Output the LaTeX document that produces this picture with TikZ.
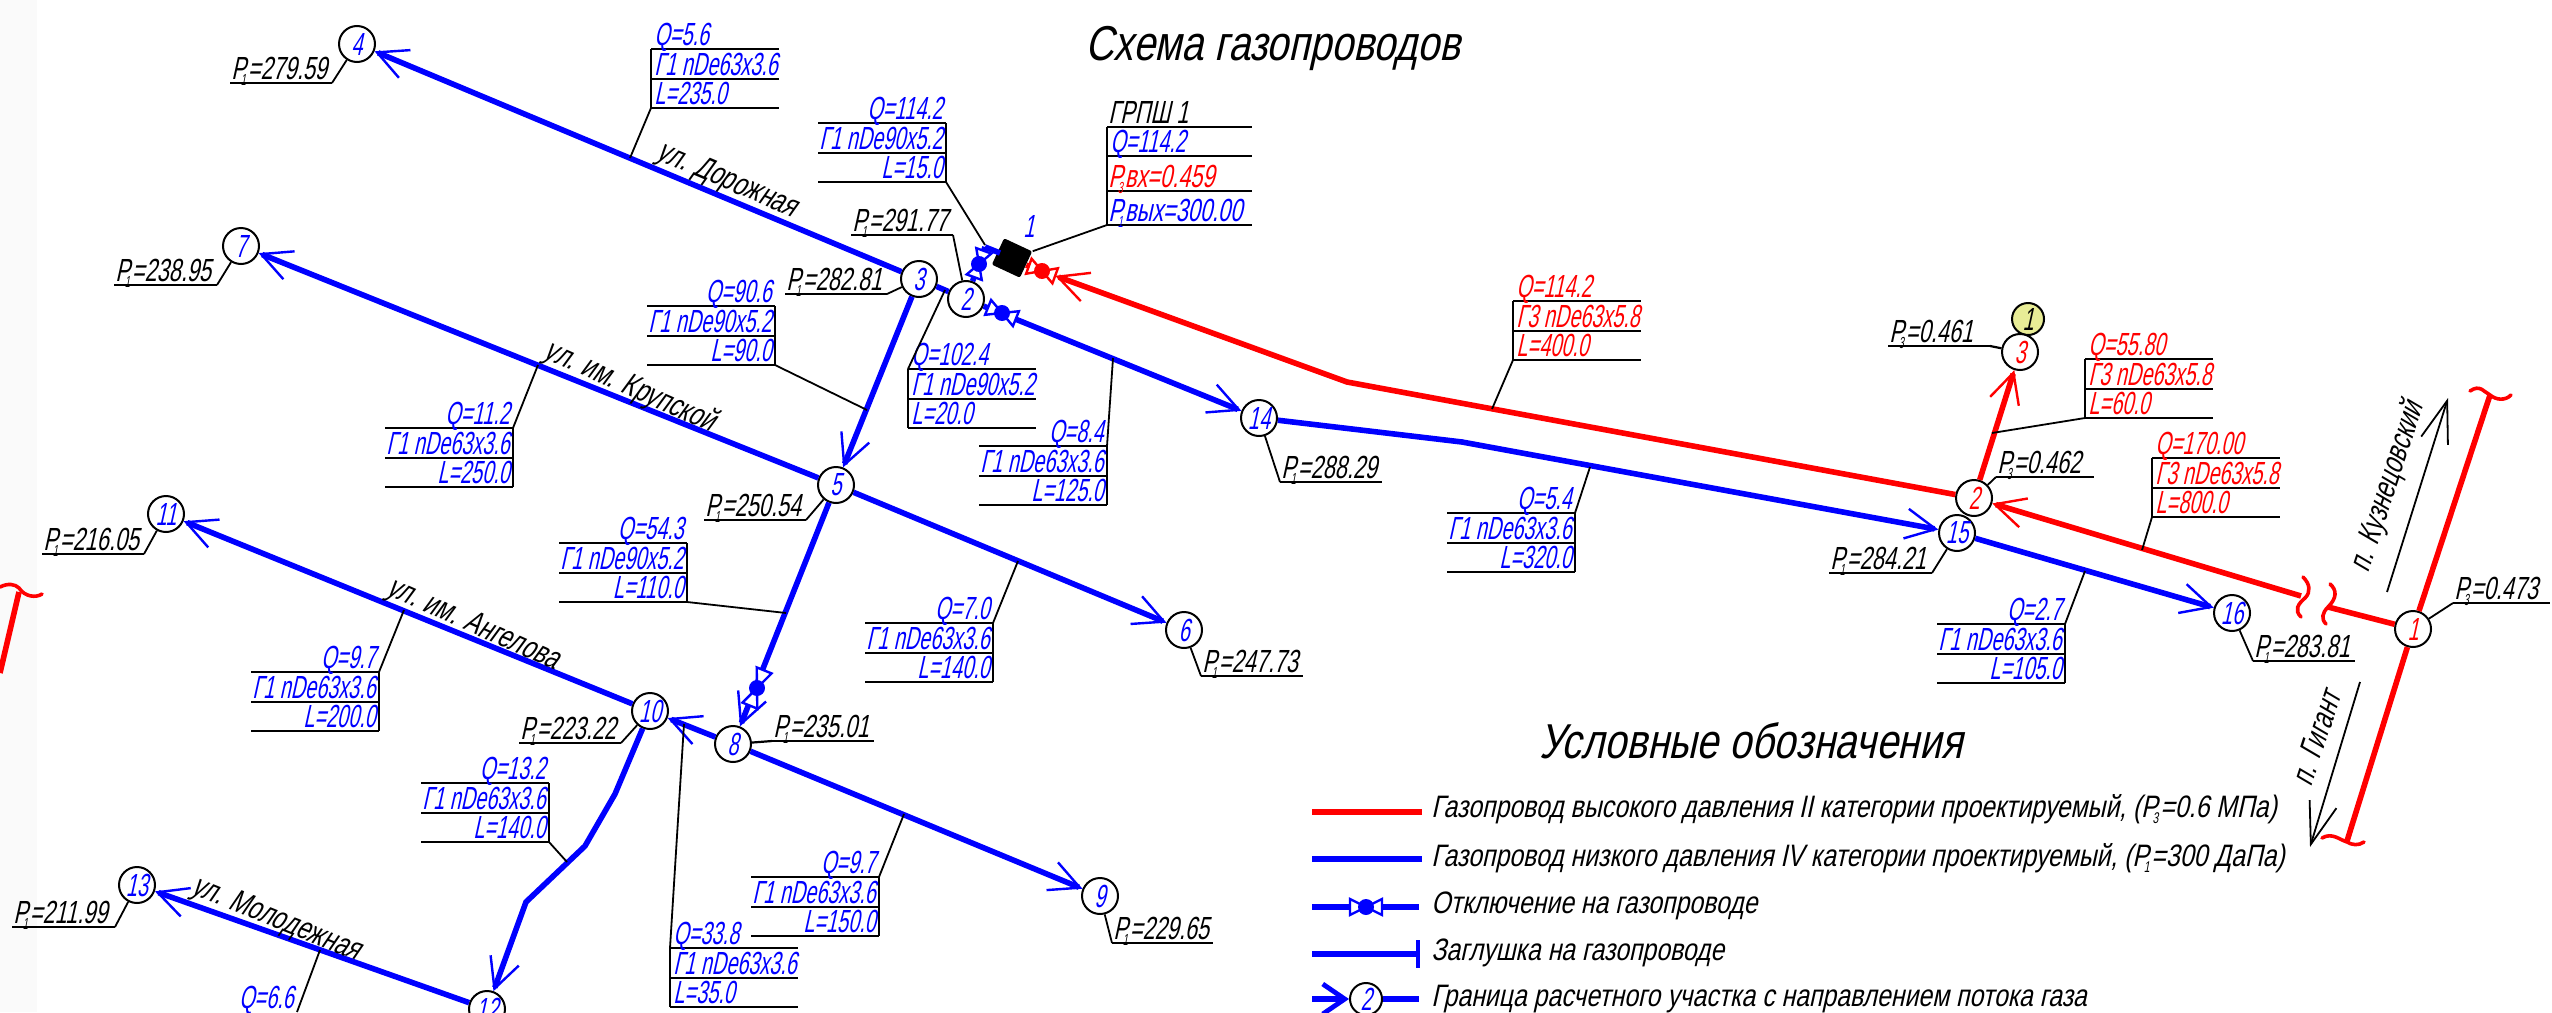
\documentclass[tikz,border=0pt]{standalone}
\usepackage{fontspec}
\setmainfont{Liberation Sans}[FakeSlant=0.22,FakeStretch=0.62]
\newfontfamily\tagface{Liberation Sans}[FakeSlant=0.22,FakeStretch=0.68]
\newfontfamily\streetface{Liberation Sans}[FakeSlant=0.22,FakeStretch=0.73]
\newfontfamily\wideface{Liberation Sans}[FakeSlant=0.22,FakeStretch=0.80]
\usetikzlibrary{arrows.meta}

\definecolor{pipeblue}{RGB}{0,0,255}
\definecolor{pipered}{RGB}{255,0,0}
\definecolor{markyellow}{RGB}{232,236,150}

\newcommand{\rowfont}{\fontsize{16pt}{16pt}\selectfont}
\newcommand{\tagfont}{\tagface\fontsize{16pt}{16pt}\selectfont}
\newcommand{\streetfont}{\streetface\fontsize{16pt}{16pt}\selectfont}
\newcommand{\legendfont}{\wideface\fontsize{15.5pt}{16pt}\selectfont}
\newcommand{\headfont}{\wideface\fontsize{24.5pt}{26pt}\selectfont}
\newcommand{\Psub}[1]{P\kern-.16em\raisebox{-.4ex}{\scalebox{.42}[.5]{#1}}\kern.06em}

\tikzset{
  rule/.style={draw=black,line width=1.1pt},
  leader/.style={draw=black,line width=.9pt},
  flowtip/.style={-{Straight Barb[length=15pt,width=15pt,line width=1.2pt]}},
  bluepipe/.style={draw=pipeblue,line width=2.8pt},
  redpipe/.style={draw=pipered,line width=2.8pt},
  breakmark/.style={draw=pipered,line width=1.8pt,line cap=round},
  roadarrow/.style={draw=black,line width=.9pt,-{Straight Barb[length=21pt,width=14pt,line width=.9pt]}},
  rowtext/.style={text=#1,inner sep=1.5pt,font=\rowfont},
  tagtext/.style={text=#1,inner xsep=.5pt,inner ysep=1.5pt,font=\tagfont},
  streettext/.style={text=black,inner sep=0pt,font=\streetfont},
  legendtext/.style={text=black,inner sep=0pt,font=\legendfont,anchor=base west},
  junction/.style={circle,draw=black,fill=white,line width=1pt,minimum size=18pt,inner sep=0pt,text=#1,font=\rowfont}
}

\newcommand{\callout}[8]{
  \coordinate (#1-west1) at (#2,#3);
  \coordinate (#1-east1) at (#2+128,#3);
  \coordinate (#1-west2) at (#2,#3+30);
  \coordinate (#1-east2) at (#2+128,#3+30);
  \coordinate (#1-west3) at (#2,#3+59);
  \coordinate (#1-east3) at (#2+128,#3+59);
  \draw[rule] (#1-west1) -- (#1-east1);
  \draw[rule] (#1-west2) -- (#1-east2);
  \draw[rule] (#1-west3) -- (#1-east3);
  \draw[rule] (#1-#41) -- (#1-#43);
  \node[rowtext=#5,anchor=base #4,yshift=2pt] (#1-q) at (#1-#41) {#6};
  \node[rowtext=#5,anchor=base #4,yshift=2pt] (#1-g) at (#1-#42) {#7};
  \node[rowtext=#5,anchor=base #4,yshift=2pt] (#1-l) at (#1-#43) {#8};
}
\newcommand{\leaderto}[2]{
  \coordinate (#1-foot) at (#2);
  \draw[leader] (#1) -- (#1-foot);
}
\newcommand{\ptag}[6]{
  \coordinate (#1-west) at (#2,#4);
  \coordinate (#1-east) at (#3,#4);
  \draw[rule] (#1-west) -- (#1-east);
  \node[tagtext=black,anchor=base west,yshift=2pt] (#1-text) at (#1-west) {\Psub{#5}=#6};
}
\newcommand{\gasvalve}[5]{
  \begin{scope}[shift={(#2)},rotate=#3]
    \coordinate (#1-a) at (#4,0);
    \coordinate (#1-b) at (-#4,0);
    \draw[draw=#5,fill=white,line width=1.2pt] (0,0) -- (#4,-8) -- (#4,8) -- cycle;
    \draw[draw=#5,fill=white,line width=1.2pt] (0,0) -- (-#4,-8) -- (-#4,8) -- cycle;
    \fill[#5] (0,0) circle (4pt);
  \end{scope}
}

\begin{document}
\begin{tikzpicture}[x=.5pt,y=-.5pt]
  \clip (0,0) rectangle (2552,1012);
  \fill[white] (0,0) rectangle (2552,1012);
  \fill[black!2] (0,0) rectangle (37,1012);

  \node[junction=pipeblue] (n2) at (966,299) {2};
  \node[junction=pipeblue] (n3) at (919,279) {3};
  \node[junction=pipeblue] (n4) at (357,44) {4};
  \node[junction=pipeblue] (n5) at (836,485) {5};
  \node[junction=pipeblue] (n6) at (1184,630) {6};
  \node[junction=pipeblue] (n7) at (241,246) {7};
  \node[junction=pipeblue] (n8) at (733,744) {8};
  \node[junction=pipeblue] (n9) at (1100,896) {9};
  \node[junction=pipeblue] (n10) at (650,711) {10};
  \node[junction=pipeblue] (n11) at (166,514) {11};
  \node[junction=pipeblue] (n12) at (487,1009) {12};
  \node[junction=pipeblue] (n13) at (137,885) {13};
  \node[junction=pipeblue] (n14) at (1259,418) {14};
  \node[junction=pipeblue] (n15) at (1957,533) {15};
  \node[junction=pipeblue] (n16) at (2232,613) {16};
  \node[circle,draw=black,fill=markyellow,line width=1pt,minimum size=16pt,inner sep=0pt,font=\rowfont] (ymark) at (2028,319) {1};
  \node[junction=pipered] (r1) at (2413,629) {1};
  \node[junction=pipered] (r2) at (1974,498) {2};
  \node[junction=pipered] (r3) at (2020,352) {3};
  \node[rectangle,fill=black,rotate=-25,minimum width=15.5pt,minimum height=14.5pt,rounded corners=1pt,inner sep=0pt] (box) at (1012,258) {};
  \node[text=pipeblue,font=\rowfont] (boxnum) at (1029,226) {1};

  \coordinate (redbend) at (1347,382);
  \coordinate (bluebend) at (1462,442);
  \coordinate (bend10a) at (615,794);
  \coordinate (bend10b) at (585,846);
  \coordinate (bend10c) at (526,902);
  \coordinate (stubA) at (985,247);
  \coordinate (stubB) at (1000,253);
  \coordinate (breakL) at (2301,596);
  \coordinate (breakR) at (2328,607);
  \coordinate (redtop) at (2490,395);
  \coordinate (redbot) at (2347,841);
  \coordinate (fragA) at (0,673);
  \coordinate (fragB) at (19,592);

  \draw[bluepipe,flowtip] (n3) -- (n4);
  \draw[bluepipe] (n3) -- (n2);
  \draw[bluepipe,flowtip] (n3) -- (n5);
  \draw[bluepipe,flowtip] (n5) -- (n7);
  \draw[bluepipe,flowtip] (n5) -- (n6);
  \draw[bluepipe,flowtip] (n5) -- (n8);
  \draw[bluepipe,flowtip] (n8) -- (n10);
  \draw[bluepipe,flowtip] (n8) -- (n9);
  \draw[bluepipe,flowtip] (n10) -- (n11);
  \draw[bluepipe,flowtip] (n10) -- (bend10a) -- (bend10b) -- (bend10c) -- (n12);
  \draw[bluepipe,flowtip] (n12) -- (n13);
  \draw[bluepipe,flowtip] (n2) -- (n14);
  \draw[bluepipe,flowtip] (n14) -- (bluebend) -- (n15);
  \draw[bluepipe,flowtip] (n15) -- (n16);
  \draw[bluepipe] (n2) -- (stubA);
  \draw[bluepipe] (stubA) -- (stubB);
  \gasvalve{vn}{979,264}{70}{14}{pipeblue}
  \gasvalve{ve}{1002,313}{-22}{15}{pipeblue}
  \gasvalve{vs}{757,688}{68}{19}{pipeblue}
  \gasvalve{vr}{1042,271}{-20}{14}{pipered}
  \draw[redpipe,flowtip] (r2) -- (redbend) -- (vr-a);
  \draw[redpipe] (vr-b) -- (box);
  \draw[redpipe,flowtip] (r2) -- (r3);
  \draw[redpipe,flowtip] (breakL) -- (r2);
  \draw[redpipe] (r1) -- (breakR);
  \draw[redpipe] (r1) -- (redtop);
  \draw[redpipe] (r1) -- (redbot);
  \draw[redpipe] (fragA) -- (fragB);

  \draw[breakmark] (2303,577) .. controls (2310,584) and (2311,592) .. (2305,598) .. controls (2298,604) and (2294,610) .. (2301,617);
  \draw[breakmark] (2330,584) .. controls (2337,590) and (2337,598) .. (2328,607) .. controls (2322,613) and (2321,619) .. (2326,624);
  \draw[breakmark] (2470,391) .. controls (2480,384) and (2484,392) .. (2490,395) .. controls (2496,400) and (2505,401) .. (2511,395);
  \draw[breakmark] (2322,838) .. controls (2332,832) and (2340,840) .. (2347,842) .. controls (2352,845) and (2358,846) .. (2364,842);
  \draw[breakmark] (0,587) .. controls (8,583) and (15,584) .. (19,588) .. controls (25,597) and (36,598) .. (42,594);

  \coordinate (kuzA) at (2387,592);
  \coordinate (kuzB) at (2448,398);
  \coordinate (gigA) at (2360,682);
  \coordinate (gigB) at (2310,847);
  \draw[roadarrow] (kuzA) -- (kuzB);
  \draw[roadarrow] (gigA) -- (gigB);

  \callout{c4}{651}{49}{west}{pipeblue}{Q=5.6}{Г1 nDe63x3.6}{L=235.0}
  \leaderto{c4-west3}{630,158}
  \callout{c7}{385}{428}{east}{pipeblue}{Q=11.2}{Г1 nDe63x3.6}{L=250.0}
  \leaderto{c7-east1}{538,365}
  \callout{c5}{647}{306}{east}{pipeblue}{Q=90.6}{Г1 nDe90x5.2}{L=90.0}
  \leaderto{c5-east3}{867,410}
  \callout{c1}{818}{123}{east}{pipeblue}{Q=114.2}{Г1 nDe90x5.2}{L=15.0}
  \leaderto{c1-east3}{985,245}
  \callout{c2}{908}{369}{west}{pipeblue}{Q=102.4}{Г1 nDe90x5.2}{L=20.0}
  \leaderto{c2-west1}{945,290}
  \callout{c14}{979}{446}{east}{pipeblue}{Q=8.4}{Г1 nDe63x3.6}{L=125.0}
  \leaderto{c14-east1}{1113,358}
  \callout{c15}{1447}{513}{east}{pipeblue}{Q=5.4}{Г1 nDe63x3.6}{L=320.0}
  \leaderto{c15-east1}{1590,467}
  \callout{c16}{1937}{624}{east}{pipeblue}{Q=2.7}{Г1 nDe63x3.6}{L=105.0}
  \leaderto{c16-east1}{2085,571}
  \callout{c6}{865}{623}{east}{pipeblue}{Q=7.0}{Г1 nDe63x3.6}{L=140.0}
  \leaderto{c6-east1}{1018,561}
  \callout{c9}{751}{877}{east}{pipeblue}{Q=9.7}{Г1 nDe63x3.6}{L=150.0}
  \leaderto{c9-east1}{904,814}
  \callout{c8}{559}{543}{east}{pipeblue}{Q=54.3}{Г1 nDe90x5.2}{L=110.0}
  \leaderto{c8-east3}{786,613}
  \callout{c11}{251}{672}{east}{pipeblue}{Q=9.7}{Г1 nDe63x3.6}{L=200.0}
  \leaderto{c11-east1}{404,610}
  \callout{c10}{421}{783}{east}{pipeblue}{Q=13.2}{Г1 nDe63x3.6}{L=140.0}
  \leaderto{c10-east3}{567,862}
  \callout{c12}{670}{948}{west}{pipeblue}{Q=33.8}{Г1 nDe63x3.6}{L=35.0}
  \leaderto{c12-west1}{684,724}
  \callout{cr1}{1513}{301}{west}{pipered}{Q=114.2}{Г3 nDe63x5.8}{L=400.0}
  \leaderto{cr1-west3}{1492,409}
  \callout{cr2}{2085}{359}{west}{pipered}{Q=55.80}{Г3 nDe63x5.8}{L=60.0}
  \leaderto{cr2-west3}{1992,433}
  \callout{cr3}{2152}{458}{west}{pipered}{Q=170.00}{Г3 nDe63x5.8}{L=800.0}
  \leaderto{cr3-west3}{2142,550}

  \coordinate (c13-top) at (297,1012);
  \leaderto{c13-top}{320,950}
  \node[rowtext=pipeblue,anchor=base east] (c13-q) at (297,1008) {Q=6.6};

  \ptag{p4}{230}{332}{83}{1}{279.59}
  \draw[leader] (p4-east) -- (n4);
  \ptag{p7}{114}{217}{285}{1}{238.95}
  \draw[leader] (p7-east) -- (n7);
  \ptag{p3}{785}{887}{294}{1}{282.81}
  \draw[leader] (p3-east) -- (n3);
  \ptag{p2}{851}{953}{235}{1}{291.77}
  \draw[leader] (p2-east) -- (n2);
  \ptag{p5}{704}{806}{520}{1}{250.54}
  \draw[leader] (p5-east) -- (n5);
  \ptag{p11}{42}{144}{554}{1}{216.05}
  \draw[leader] (p11-east) -- (n11);
  \ptag{p10}{519}{621}{743}{1}{223.22}
  \draw[leader] (p10-east) -- (n10);
  \ptag{p13}{12}{115}{927}{1}{211.99}
  \draw[leader] (p13-east) -- (n13);
  \ptag{p8}{772}{874}{741}{1}{235.01}
  \draw[rule] (p8-west) -- (n8);
  \ptag{p6}{1201}{1303}{676}{1}{247.73}
  \draw[leader] (p6-west) -- (n6);
  \ptag{p9}{1112}{1213}{943}{1}{229.65}
  \draw[leader] (p9-west) -- (n9);
  \ptag{p14}{1280}{1382}{482}{1}{288.29}
  \draw[leader] (p14-west) -- (n14);
  \ptag{p15}{1829}{1932}{573}{1}{284.21}
  \draw[leader] (p15-east) -- (n15);
  \ptag{p16}{2253}{2355}{661}{1}{283.81}
  \draw[leader] (p16-west) -- (n16);
  \ptag{pr3}{1888}{1990}{346}{3}{0.461}
  \draw[rule] (pr3-east) -- (r3);
  \ptag{pr2}{1996}{2094}{477}{3}{0.462}
  \draw[leader] (pr2-west) -- (r2);
  \ptag{pr1}{2453}{2550}{603}{3}{0.473}
  \draw[leader] (pr1-west) -- (r1);

  \coordinate (grpA) at (1107,127);
  \coordinate (grpAe) at (1252,127);
  \coordinate (grpB) at (1107,156);
  \coordinate (grpBe) at (1252,156);
  \coordinate (grpC) at (1107,191);
  \coordinate (grpCe) at (1252,191);
  \coordinate (grpD) at (1107,225);
  \coordinate (grpDe) at (1252,225);
  \draw[rule] (grpA) -- (grpAe);
  \draw[rule] (grpB) -- (grpBe);
  \draw[rule] (grpC) -- (grpCe);
  \draw[rule] (grpD) -- (grpDe);
  \draw[rule] (grpA) -- (grpD);
  \draw[leader] (grpD) -- (box.north east);
  \node[tagtext=black,anchor=base west,yshift=2pt] (grptitle) at (grpA) {ГРПШ 1};
  \node[rowtext=pipeblue,anchor=base west,yshift=2pt] (grpq) at (grpB) {Q=114.2};
  \node[tagtext=pipered,anchor=base west,yshift=2pt] (grpin) at (grpC) {\Psub{3}вх=0.459};
  \node[tagtext=pipeblue,anchor=base west,yshift=2pt] (grpout) at (grpD) {\Psub{1}вых=300.00};

  \node[streettext,rotate=-23] (st1) at (727,181) {ул. Дорожная};
  \node[streettext,rotate=-24] (st2) at (630,387) {ул. им. Крупской};
  \node[streettext,rotate=-24] (st3) at (473,625) {ул. им. Ангелова};
  \node[streettext,rotate=-22] (st4) at (276,920) {ул. Молодежная};
  \node[streettext,rotate=72] (st5) at (2388,487) {п. Кузнецовский};
  \node[streettext,rotate=72] (st6) at (2316,738) {п. Гигант};

  \node[text=black,inner sep=0pt,font=\headfont,anchor=base] (title) at (1273,60) {Схема газопроводов};
  \node[text=black,inner sep=0pt,font=\headfont,anchor=base] (legendhead) at (1751,758) {Условные обозначения};

  \coordinate (lgA) at (1312,812);
  \coordinate (lgAe) at (1422,812);
  \coordinate (lgB) at (1312,859);
  \coordinate (lgBe) at (1422,859);
  \coordinate (lgC) at (1312,907);
  \coordinate (lgCe) at (1419,907);
  \coordinate (lgD) at (1312,954);
  \coordinate (lgDe) at (1418,954);
  \coordinate (lgDa) at (1418,940);
  \coordinate (lgDb) at (1418,968);
  \coordinate (lgE) at (1312,999);
  \coordinate (lgEe) at (1419,999);
  \draw[redpipe] (lgA) -- (lgAe);
  \draw[bluepipe] (lgB) -- (lgBe);
  \draw[bluepipe] (lgC) -- (lgCe);
  \gasvalve{lgv}{1366,907}{0}{16}{pipeblue}
  \draw[bluepipe] (lgD) -- (lgDe);
  \draw[draw=pipeblue,line width=1.8pt] (lgDa) -- (lgDb);
  \node[circle,draw=black,fill=white,line width=1pt,minimum size=16pt,inner sep=0pt,text=pipeblue,font=\rowfont] (lgnode) at (1366,999) {2};
  \draw[bluepipe,-{Straight Barb[length=11pt,width=15pt,line width=2.4pt]}] (lgE) -- (lgnode);
  \draw[bluepipe] (lgnode) -- (lgEe);

  \node[legendtext] (lg1) at (1431,817) {Газопровод высокого давления II категории проектируемый, (\Psub{3}=0.6 МПа)};
  \node[legendtext] (lg2) at (1431,866) {Газопровод низкого давления IV категории проектируемый, (\Psub{1}=300 ДаПа)};
  \node[legendtext] (lg3) at (1431,913) {Отключение на газопроводе};
  \node[legendtext] (lg4) at (1431,960) {Заглушка на газопроводе};
  \node[legendtext] (lg5) at (1431,1006) {Граница расчетного участка с направлением потока газа};
\end{tikzpicture}
\end{document}
